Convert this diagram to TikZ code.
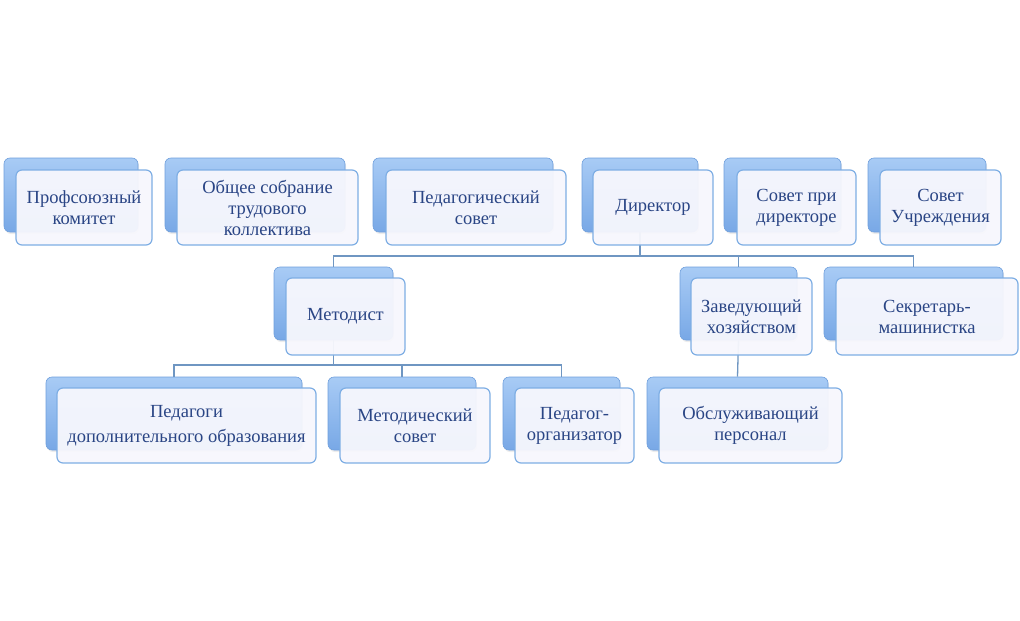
\documentclass[tikz,border=0pt]{standalone}
\usepackage{fontspec}
\setmainfont{Liberation Serif}
\usetikzlibrary{shadows}
\definecolor{txtblue}{HTML}{2A4585}
\definecolor{backtop}{HTML}{A8CBF5}
\definecolor{backbot}{HTML}{78A8E6}
\definecolor{backedge}{HTML}{6F9FDC}
\definecolor{frontfill}{HTML}{F7F7FD}
\definecolor{frontedge}{HTML}{7EAEE4}
\definecolor{connblue}{HTML}{6F96C2}
\tikzset{
  backbox/.style={rectangle, rounded corners=6pt, top color=backtop, bottom color=backbot,
    draw=backedge, line width=0.6pt, inner sep=0pt,
    drop shadow={opacity=0.15, shadow xshift=1pt, shadow yshift=-2pt}},
  frontbox/.style={rectangle, rounded corners=6pt, fill=frontfill, fill opacity=0.95, text opacity=1,
    draw=frontedge, line width=1.2pt, inner sep=2pt, align=center, text=txtblue,
    font=\fontsize{18.5}{21}\selectfont},
  conn/.style={draw=connblue, line width=1.3pt}
}
\begin{document}
\begin{tikzpicture}[x=1pt,y=-1pt]
\useasboundingbox (0,0) rectangle (1020,621);

% ---- back boxes ----
\node[backbox, minimum width=134pt, minimum height=74pt] (b1) at (71,195) {};
\node[backbox, minimum width=180pt, minimum height=74pt] (b2) at (255,195) {};
\node[backbox, minimum width=180pt, minimum height=74pt] (b3) at (463,195) {};
\node[backbox, minimum width=116pt, minimum height=74pt] (b4) at (640,195) {};
\node[backbox, minimum width=117pt, minimum height=74pt] (b5) at (782.5,195) {};
\node[backbox, minimum width=118pt, minimum height=74pt] (b6) at (927,195) {};

\node[backbox, minimum width=119pt, minimum height=73pt] (bm) at (333.5,303.5) {};
\node[backbox, minimum width=117pt, minimum height=73pt] (bz) at (738.5,303.5) {};
\node[backbox, minimum width=179pt, minimum height=73pt] (bs) at (913.5,303.5) {};

\node[backbox, minimum width=256pt, minimum height=73pt] (bp) at (174,413.5) {};
\node[backbox, minimum width=148pt, minimum height=73pt] (bms) at (402,413.5) {};
\node[backbox, minimum width=117pt, minimum height=73pt] (bpo) at (561.5,413.5) {};
\node[backbox, minimum width=181pt, minimum height=73pt] (bo) at (737.5,413.5) {};

% ---- connectors ----
\draw[conn] (b4.south) -- (b4.south |- 0,256) -| (bm.north);
\draw[conn] (b4.south) -- (b4.south |- 0,256) -| (bz.north);
\draw[conn] (b4.south) -- (b4.south |- 0,256) -| (bs.north);
\draw[conn] (bm.south) -- (bm.south |- 0,365) -| (bp.north);
\draw[conn] (bm.south) -- (bm.south |- 0,365) -| (bms.north);
\draw[conn] (bm.south) -- (bm.south |- 0,365) -| (bpo.north);
\draw[conn] (bz.south) -- (bo.north);

% ---- front boxes ----
\node[frontbox, minimum width=136pt, minimum height=75pt] (f1) at (84,207.5) {Профсоюзный\\комитет};
\node[frontbox, minimum width=181pt, minimum height=75pt] (f2) at (267.5,207.5) {Общее собрание\\трудового\\коллектива};
\node[frontbox, minimum width=180pt, minimum height=75pt] (f3) at (476,207.5) {Педагогический\\совет};
\node[frontbox, minimum width=120pt, minimum height=75pt] (f4) at (653,207.5) {Директор};
\node[frontbox, minimum width=119pt, minimum height=75pt] (f5) at (796.5,207.5) {Совет при\\директоре};
\node[frontbox, minimum width=121pt, minimum height=75pt] (f6) at (940.5,207.5) {Совет\\Учреждения};

\node[frontbox, minimum width=119pt, minimum height=77pt] (fm) at (345.5,316.5) {Методист};
\node[frontbox, minimum width=121pt, minimum height=77pt] (fz) at (751.5,316.5) {Заведующий\\хозяйством};
\node[frontbox, minimum width=182pt, minimum height=77pt] (fs) at (927,316.5) {Секретарь-\\машинистка};

\node[frontbox, minimum width=259pt, minimum height=75pt] (fp) at (186.5,425.5) {Педагоги\\[4pt]дополнительного образования};
\node[frontbox, minimum width=150pt, minimum height=75pt] (fms) at (415,425.5) {Методический\\совет};
\node[frontbox, minimum width=119pt, minimum height=75pt] (fpo) at (574.5,425.5) {Педагог-\\организатор};
\node[frontbox, minimum width=183pt, minimum height=75pt] (fo) at (750.5,425.5) {Обслуживающий\\персонал};
\end{tikzpicture}
\end{document}
